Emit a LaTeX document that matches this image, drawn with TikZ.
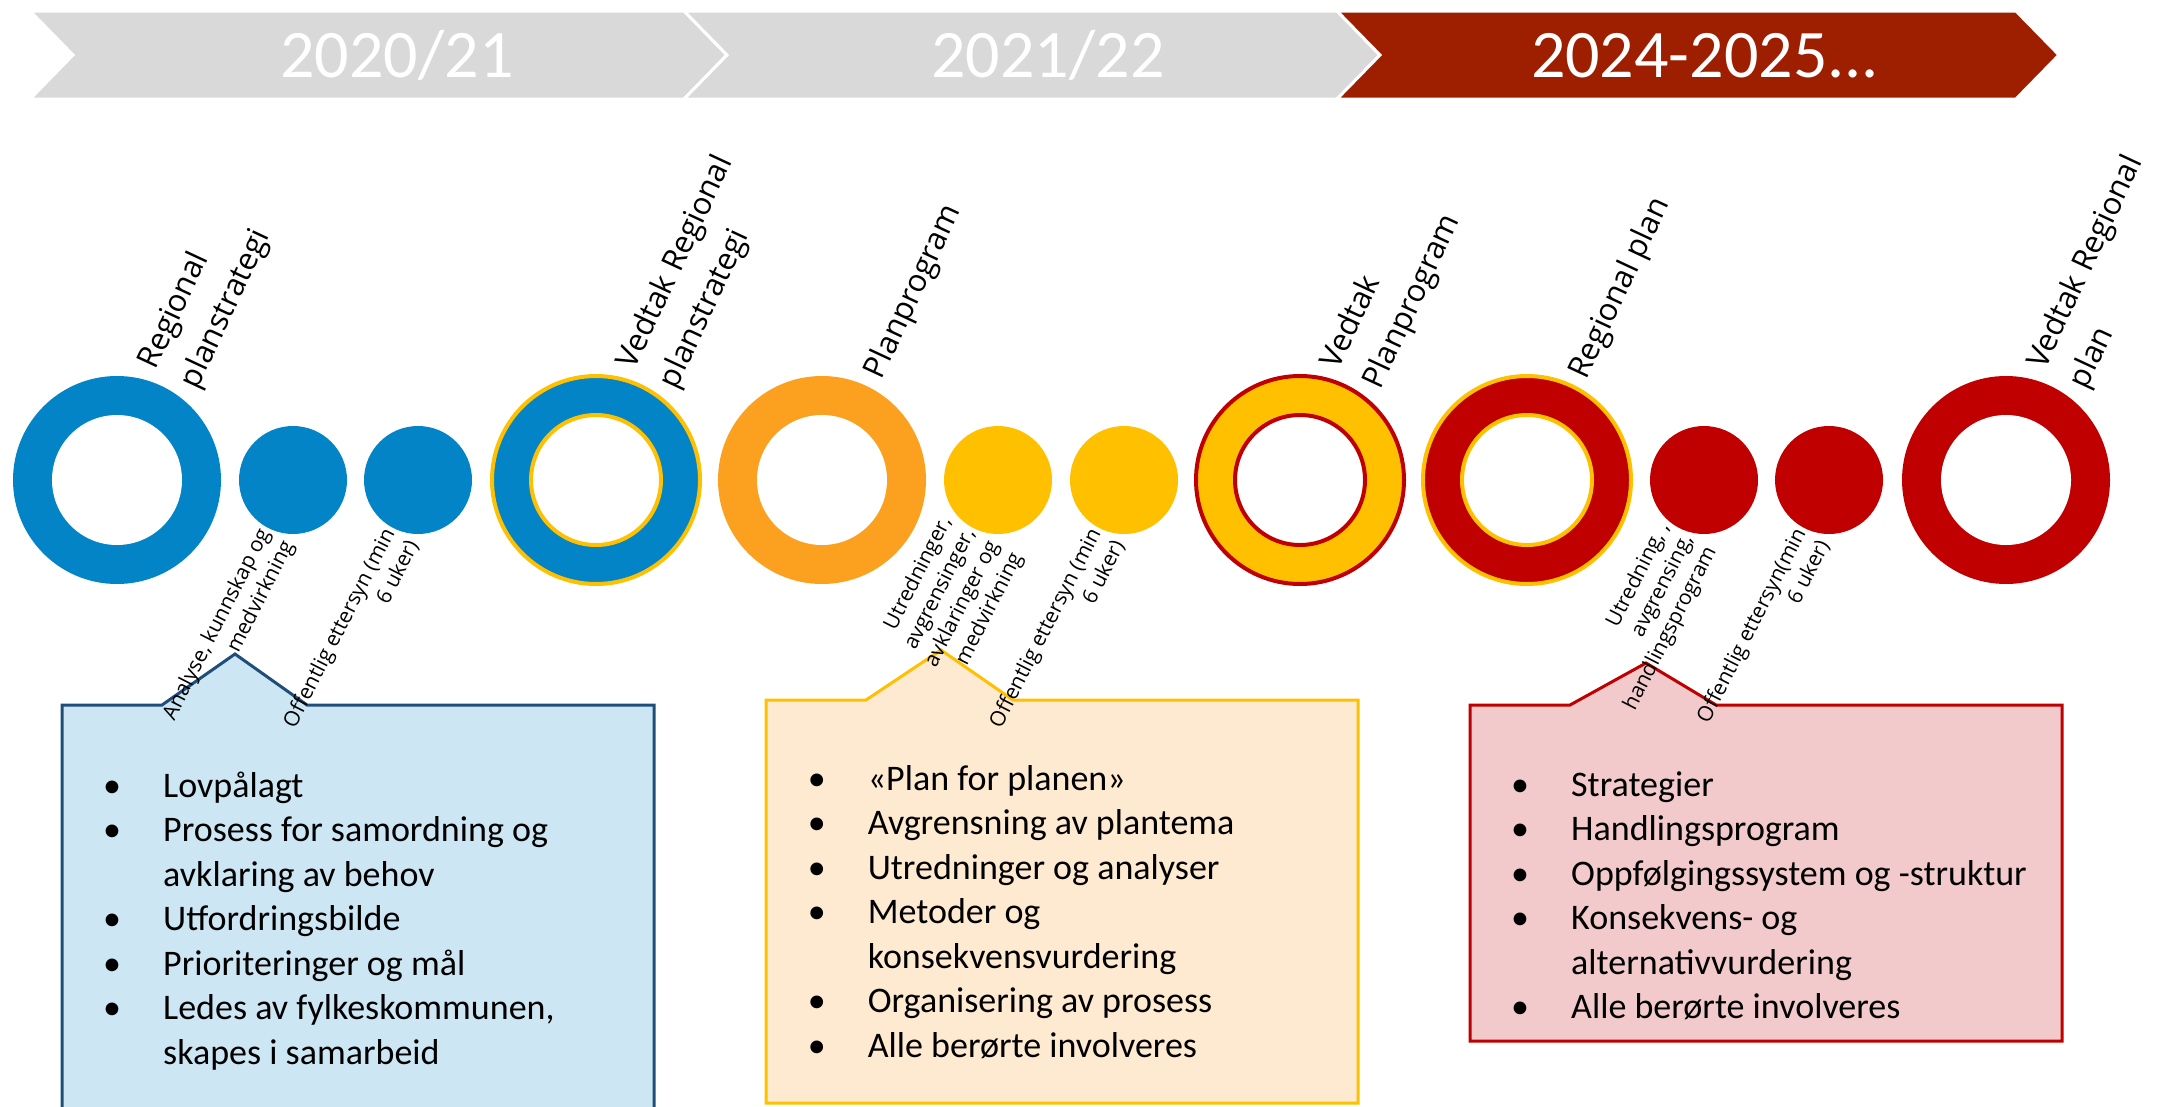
\documentclass[tikz,border=0pt]{standalone}
\usepackage{fontspec}
\setmainfont{Carlito}
\newfontfamily\lblfont{Open Sans}
\definecolor{hdrGray}{HTML}{D9D9D9}
\definecolor{hdrRed}{HTML}{9E1E00}
\definecolor{cBlue}{HTML}{0284C7}
\definecolor{cOrange}{HTML}{FCA020}
\definecolor{cYellow}{HTML}{FFC000}
\definecolor{cRed}{HTML}{C00000}
\definecolor{boxBlueFill}{HTML}{CDE6F3}
\definecolor{boxBlueLine}{HTML}{1F4E79}
\definecolor{boxOrFill}{HTML}{FEE9D1}
\definecolor{boxRedFill}{HTML}{F2CACB}
\newcommand\mybul{\makebox[60pt][l]{\textbullet}}
\tikzset{
 chev/.style={draw=white, line width=3},
 hdr/.style={font=\fontsize{68}{80}\selectfont, text=white, anchor=base, inner sep=0},
 ring/.style={circle, minimum size=208, inner sep=0},
 hole/.style={circle, fill=white, minimum size=130, inner sep=0},
 dotc/.style={circle, minimum size=108, inner sep=0},
 toplbl/.style={font=\lblfont\fontsize{31}{46}\selectfont, rotate=65, anchor=west, inner sep=0},
 botlbl/.style={font=\lblfont\fontsize{21}{26.5}\selectfont, rotate=63, anchor=east, inner sep=0},
 callout/.style={line width=3, line join=miter},
 boxtxt/.style={font=\fontsize{36}{44.5}\selectfont, anchor=base west, inner sep=0},
}
\begin{document}
\begin{tikzpicture}[x=1pt,y=-1pt]
\useasboundingbox (0,0) rectangle (2157,1106);
% header chevrons
\fill[hdrGray, chev] (30,11) -- (684,11) -- (727,55) -- (684,99) -- (30,99) -- (73,55) -- cycle;
\fill[hdrGray, chev] (684,11) -- (1337,11) -- (1380,55) -- (1337,99) -- (684,99) -- (727,55) -- cycle;
\fill[hdrRed, chev] (1337,11) -- (2016,11) -- (2059,55) -- (2016,99) -- (1337,99) -- (1380,55) -- cycle;
\node[hdr] (yA) at (397,77) {2020/21};
\node[hdr] (yB) at (1048,77) {2021/22};
\node[hdr] (yC) at (1705,77) {2024-2025...};
% rings and dots
\node[ring, fill=cBlue] (r1) at (117,480) {};
\node[hole] (h1) at (r1) {};
\node[dotc, fill=cBlue] (d1) at (293,480) {};
\node[dotc, fill=cBlue] (d2) at (418,480) {};
\node[ring, fill=cBlue, draw=cYellow, line width=4] (r2) at (596,480) {};
\node[hole, draw=cYellow, line width=4] (h2) at (r2) {};
\node[ring, fill=cOrange] (r3) at (822,480) {};
\node[hole] (h3) at (r3) {};
\node[dotc, fill=cYellow] (d3) at (998,480) {};
\node[dotc, fill=cYellow] (d4) at (1124,480) {};
\node[ring, fill=cYellow, draw=cRed, line width=4] (r4) at (1300,480) {};
\node[hole, draw=cRed, line width=4] (h4) at (r4) {};
\node[ring, fill=cRed, draw=cYellow, line width=4] (r5) at (1527,480) {};
\node[hole, draw=cYellow, line width=4] (h5) at (r5) {};
\node[dotc, fill=cRed] (d5) at (1704,480) {};
\node[dotc, fill=cRed] (d6) at (1829,480) {};
\node[ring, fill=cRed] (r6) at (2006,480) {};
\node[hole] (h6) at (r6) {};
% top labels
\node[toplbl] (l1) at (168.4,376.7) {\begin{tabular}{@{}l@{}}Regional\\planstrategi\end{tabular}};
\node[toplbl] (l2) at (647.4,376.7) {\begin{tabular}{@{}l@{}}Vedtak Regional\\planstrategi\end{tabular}};
\node[toplbl] (l3) at (873.4,376.7) {\begin{tabular}{@{}l@{}}Planprogram\end{tabular}};
\node[toplbl] (l4) at (1351.4,376.7) {\begin{tabular}{@{}l@{}}Vedtak\\Planprogram\end{tabular}};
\node[toplbl] (l5) at (1578.4,376.7) {\begin{tabular}{@{}l@{}}Regional plan\end{tabular}};
\node[toplbl] (l6) at (2057.4,376.7) {\begin{tabular}{@{}l@{}}Vedtak Regional\\plan\end{tabular}};
% callout boxes
\begin{scope}
\clip (0,0) rectangle (2157,1106);
\draw[callout, fill=boxBlueFill, draw=boxBlueLine] (62,705) -- (162,705) -- (235,654) -- (307,705) -- (654,705) -- (654,1115) -- (62,1115) -- cycle;
\end{scope}
\draw[callout, fill=boxOrFill, draw=cYellow] (766,700) -- (866,700) -- (941,650) -- (1013,700) -- (1358,700) -- (1358,1103) -- (766,1103) -- cycle;
\draw[callout, fill=boxRedFill, draw=cRed] (1470,705) -- (1570,705) -- (1646,663) -- (1716,705) -- (2062,705) -- (2062,1041) -- (1470,1041) -- cycle;
% box texts
\node[boxtxt] (t1) at (103,797) {\begin{tabular}[t]{@{}l@{}l@{}}
\mybul & Lovpålagt\\
\mybul & Prosess for samordning og\\
 & avklaring av behov\\
\mybul & Utfordringsbilde\\
\mybul & Prioriteringer og mål\\
\mybul & Ledes av fylkeskommunen,\\
 & skapes i samarbeid
\end{tabular}};
\node[boxtxt] (t2) at (807.6,790) {\begin{tabular}[t]{@{}l@{}l@{}}
\mybul & «Plan for planen»\\
\mybul & Avgrensning av plantema\\
\mybul & Utredninger og analyser\\
\mybul & Metoder og\\
 & konsekvensvurdering\\
\mybul & Organisering av prosess\\
\mybul & Alle berørte involveres
\end{tabular}};
\node[boxtxt] (t3) at (1511,796) {\begin{tabular}[t]{@{}l@{}l@{}}
\mybul & Strategier\\
\mybul & Handlingsprogram\\
\mybul & Oppfølgingssystem og -struktur\\
\mybul & Konsekvens- og\\
 & alternativvurdering\\
\mybul & Alle berørte involveres
\end{tabular}};
% bottom labels
\node[botlbl] (b1) at (277.3,536.5) {\begin{tabular}{@{}r@{}}Analyse, kunnskap og\\medvirkning\end{tabular}};
\node[botlbl] (b2) at (402.3,536.5) {\begin{tabular}{@{}r@{}}Offentlig ettersyn (min\\6 uker)\end{tabular}};
\node[botlbl] (b3) at (982.3,536.5) {\begin{tabular}{@{}r@{}}Utredninger,\\avgrensinger,\\avklaringer og\\medvirkning\end{tabular}};
\node[botlbl] (b4) at (1108.3,536.5) {\begin{tabular}{@{}r@{}}Offentlig ettersyn (min\\6 uker)\end{tabular}};
\node[botlbl] (b5) at (1688.3,536.5) {\begin{tabular}{@{}r@{}}Utredning, ,\\avgrensing,\\handlingsprogram\end{tabular}};
\node[botlbl] (b6) at (1813.3,536.5) {\begin{tabular}{@{}r@{}}Offentlig ettersyn(min\\6 uker)\end{tabular}};
\end{tikzpicture}
\end{document}
